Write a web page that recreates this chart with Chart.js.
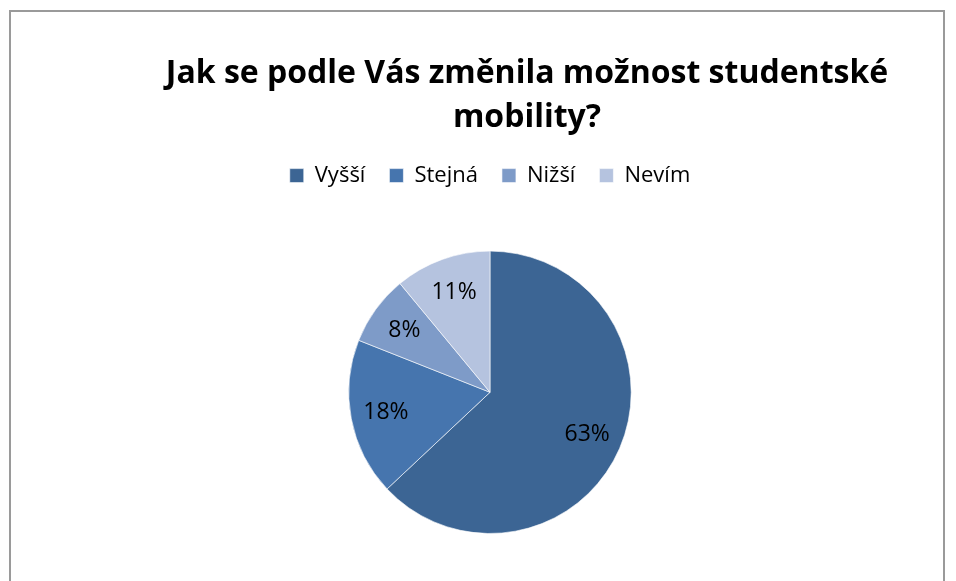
<!DOCTYPE html>
<html>
<head>
<meta charset="utf-8">
<script src="https://cdn.jsdelivr.net/npm/chart.js@4.4.0/dist/chart.umd.min.js"></script>
<style>
  body { margin: 0; background: #fff; }
  #ramecek { position: absolute; left: 9px; top: 10px; width: 936px; height: 600px; border: 2px solid #9a9a9a; box-sizing: border-box; }
  #graf { position: absolute; left: 0; top: 0; }
</style>
</head>
<body>
<div id="ramecek"></div>
<canvas id="graf" width="956" height="581"></canvas>
<script>
// data z grafu
const kategorie = ['Vyšší', 'Stejná', 'Nižší', 'Nevím'];
const podily = [63, 18, 8, 11];
const nadpis = ['Jak se podle Vás změnila možnost studentské', 'mobility?'];

const barvy = ['#3c6594', '#4675ae', '#7e9bc8', '#b5c3df'];

Chart.defaults.font.family = "'Open Sans', sans-serif";
Chart.defaults.color = '#000';

// popisky s procenty uvnitr vysece
const popisky = {
    id: 'popisky',
    afterDatasetsDraw(chart) {
        const ctx = chart.ctx;
        const meta = chart.getDatasetMeta(0);
        ctx.save();
        ctx.font = "23px 'Open Sans', sans-serif";
        ctx.fillStyle = '#000';
        ctx.textAlign = 'center';
        ctx.textBaseline = 'middle';
        meta.data.forEach((arc, i) => {
            const uhel = (arc.startAngle + arc.endAngle) / 2;
            const r = arc.outerRadius * 0.75;
            ctx.fillText(podily[i] + '%', arc.x + Math.cos(uhel) * r, arc.y + Math.sin(uhel) * r);
        });
        ctx.restore();
    }
};

// nadpis je v puvodnim grafu posunuty doprava, pod legendou je mezera
const upravyRozlozeni = {
    id: 'upravyRozlozeni',
    beforeInit(chart) {
        const puvodniFit = chart.legend.fit;
        chart.legend.fit = function () {
            puvodniFit.bind(chart.legend)();
            this.height += 54;
        };
    },
    afterLayout(chart) {
        if (chart.titleBlock) {
            chart.titleBlock.left += 37;
            chart.titleBlock.right += 37;
        }
    }
};

const ctx = document.getElementById('graf');
const chart = new Chart(ctx, {
    type: 'pie',
    data: {
        labels: kategorie,
        datasets: [{
            data: podily,
            backgroundColor: barvy,
            borderColor: 'rgba(255,255,255,0.6)',
            borderWidth: 1
        }]
    },
    options: {
        responsive: false,
        animation: false,
        layout: { padding: { top: 0, left: 24, right: 0, bottom: 47 } },
        plugins: {
            title: {
                display: true,
                text: nadpis,
                font: { size: 32, weight: 'bold', lineHeight: 1.4 },
                padding: { top: 51, bottom: 0 }
            },
            legend: {
                position: 'top',
                labels: {
                    boxWidth: 14,
                    boxHeight: 14,
                    padding: 24,
                    font: { size: 22 }
                }
            },
            tooltip: { enabled: false }
        }
    },
    plugins: [popisky, upravyRozlozeni]
});
</script>
</body>
</html>
